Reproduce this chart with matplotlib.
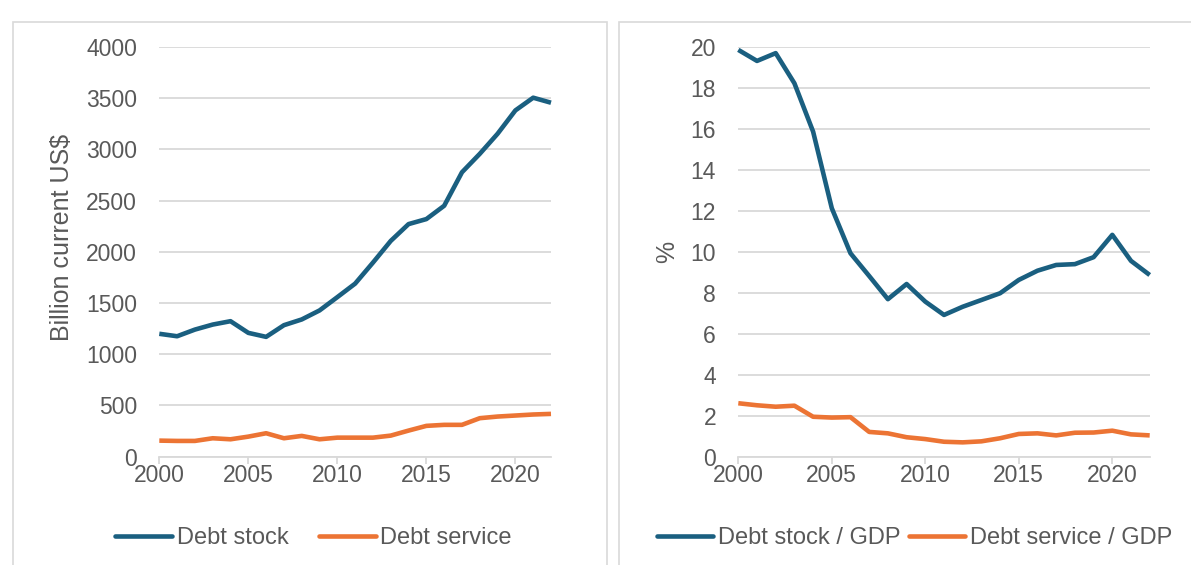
import matplotlib
matplotlib.use("Agg")
import matplotlib.pyplot as plt
from matplotlib.patches import Rectangle

plt.rcParams['font.family'] = ['Liberation Sans', 'DejaVu Sans']

years = list(range(2000, 2023))
debt_stock = [1200, 1176, 1241, 1290, 1323, 1209, 1170, 1284, 1340, 1428, 1558, 1690,
              1895, 2107, 2271, 2320, 2450, 2777, 2957, 3153, 3381, 3505, 3456]
debt_service = [157, 154, 154, 180, 170, 196, 229, 180, 203, 170, 186, 186,
                186, 206, 255, 301, 311, 311, 376, 392, 402, 412, 418]
stock_gdp = [19.86, 19.32, 19.70, 18.23, 15.87, 12.13, 9.93, 8.82, 7.69, 8.43, 7.57, 6.92,
             7.32, 7.65, 7.98, 8.63, 9.08, 9.36, 9.40, 9.74, 10.83, 9.56, 8.87]
service_gdp = [2.61, 2.51, 2.44, 2.49, 1.95, 1.91, 1.93, 1.21, 1.14, 0.95, 0.86, 0.73,
               0.70, 0.75, 0.90, 1.11, 1.14, 1.04, 1.17, 1.18, 1.27, 1.09, 1.04]
xticks = [2000, 2005, 2010, 2015, 2020]
left_yticks = list(range(0, 4001, 500))
right_yticks = list(range(0, 21, 2))

BLUE = '#1a5f80'
ORANGE = '#ec7434'
GRID = '#d9d9d9'
TXT = '#595959'
FS = 16.5
LFS = 17

W, H = 1191, 565
fig = plt.figure(figsize=(W / 100, H / 100), dpi=100)

def px_rect(x0, y0, x1, y1):
    return [x0 / W, 1 - y1 / H, (x1 - x0) / W, (y1 - y0) / H]

# panel borders
for (x0, x1) in [(13, 606.5), (618.5, 1200)]:
    fig.patches.append(Rectangle((x0 / W, -0.1), (x1 - x0) / W, 1.1 - 21.5 / H,
                                 transform=fig.transFigure, fill=False,
                                 edgecolor=GRID, linewidth=1.2))

ax1 = fig.add_axes(px_rect(159.3, 47, 551, 456.7))
ax2 = fig.add_axes(px_rect(738.3, 47, 1149.7, 456.7))

def style(ax, yticks, ymax):
    ax.set_xlim(2000, 2022)
    ax.set_ylim(0, ymax)
    ax.set_xticks(xticks)
    ax.set_yticks(yticks)
    ax.grid(axis='y', color=GRID, linewidth=1.3)
    ax.set_axisbelow(True)
    for s in ['top', 'right', 'left']:
        ax.spines[s].set_visible(False)
    ax.spines['bottom'].set_color(GRID)
    ax.spines['bottom'].set_linewidth(1.3)
    ax.tick_params(axis='y', length=0, pad=16, labelsize=FS, labelcolor=TXT)
    ax.tick_params(axis='x', length=5, width=1.3, color=GRID, pad=0.5,
                   labelsize=FS, labelcolor=TXT)

style(ax1, left_yticks, 4000)
style(ax2, right_yticks, 20)

ax1.plot(years, debt_stock, color=BLUE, lw=3.3, label='Debt stock', clip_on=False,
         solid_capstyle='butt')
ax1.plot(years, debt_service, color=ORANGE, lw=3.3, label='Debt service', clip_on=False,
         solid_capstyle='butt')
ax2.plot(years, stock_gdp, color=BLUE, lw=3.3, label='Debt stock / GDP', clip_on=False,
         solid_capstyle='butt')
ax2.plot(years, service_gdp, color=ORANGE, lw=3.3, label='Debt service / GDP', clip_on=False,
         solid_capstyle='butt')

fig.text(62 / W, 1 - 237 / H, 'Billion current US$', rotation=90, ha='center', va='center',
         fontsize=18, color=TXT)
fig.text(667 / W, 1 - 252 / H, '%', rotation=90, ha='center', va='center',
         fontsize=18, color=TXT)

leg1 = fig.legend(handles=ax1.get_lines(), loc='center', bbox_to_anchor=(313.5 / W, 1 - 538 / H),
                  ncol=2, frameon=False, fontsize=LFS, handlelength=2.4, handletextpad=0.2,
                  columnspacing=1.3, borderpad=0, labelcolor=TXT)
leg2 = fig.legend(handles=ax2.get_lines(), loc='center', bbox_to_anchor=(914.5 / W, 1 - 538 / H),
                  ncol=2, frameon=False, fontsize=LFS, handlelength=2.4, handletextpad=0.2,
                  columnspacing=0.35, borderpad=0, labelcolor=TXT)
for leg in (leg1, leg2):
    for h in leg.legend_handles:
        h.set_linewidth(3.3)
        h.set_solid_capstyle('round')

fig.savefig('out.png', dpi=100)
